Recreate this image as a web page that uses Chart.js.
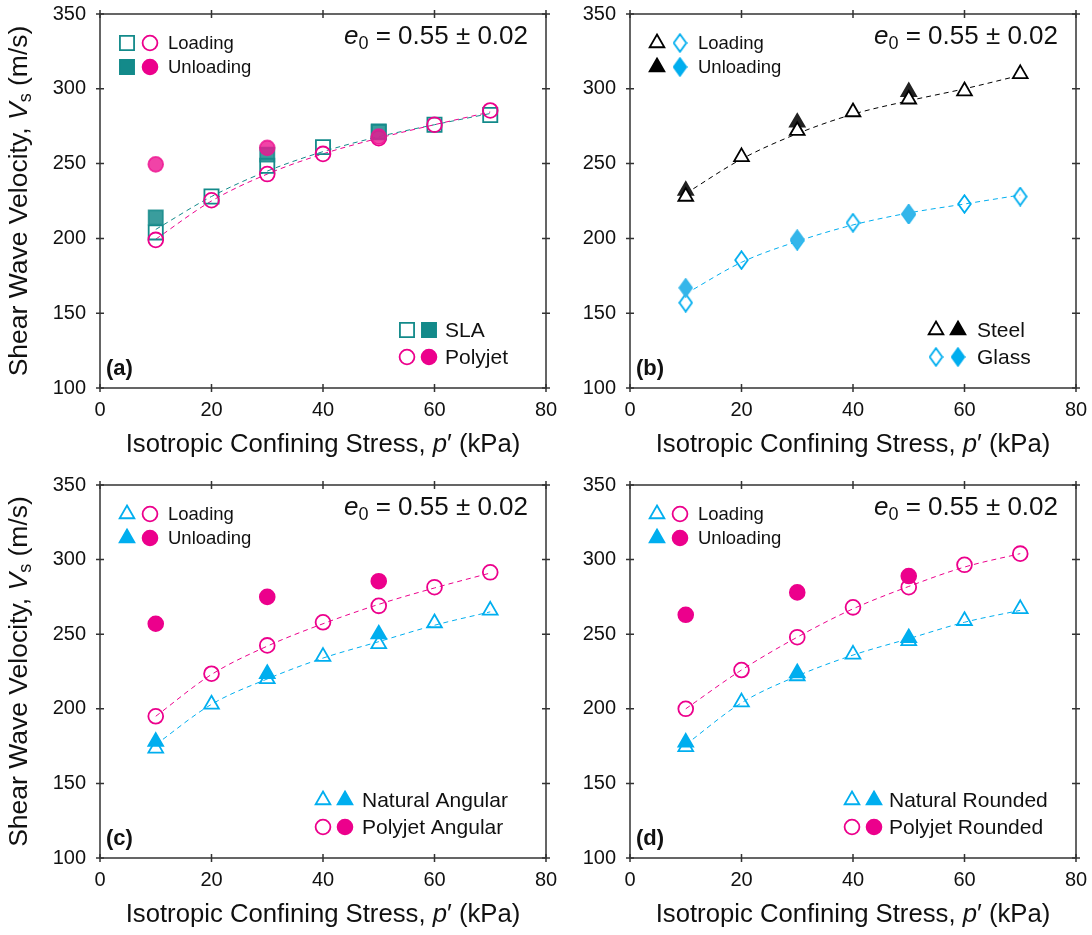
<!DOCTYPE html>
<html>
<head>
<meta charset="utf-8">
<script src="https://cdn.jsdelivr.net/npm/chart.js@4.4.1/dist/chart.umd.min.js"></script>
<style>
  body { margin: 0; background: #fff; }
  #wrap { position: relative; width: 1092px; height: 935px; overflow: hidden; }
  .panel { position: absolute; }
</style>
</head>
<body>
<div id="wrap">
  <div class="panel" style="left:0;top:0;width:560px;height:470px"><canvas id="pa"></canvas></div>
  <div class="panel" style="left:560px;top:0;width:532px;height:470px"><canvas id="pb"></canvas></div>
  <div class="panel" style="left:0;top:470px;width:560px;height:465px"><canvas id="pc"></canvas></div>
  <div class="panel" style="left:560px;top:470px;width:532px;height:465px"><canvas id="pd"></canvas></div>
</div>
<script>
// confining stress steps (kPa)
var pressure = [10, 20, 30, 40, 50, 60, 70];
var unloadPressure = [10, 30, 50];
var xTicks = [0, 20, 40, 60, 80];
var yTicks = [100, 150, 200, 250, 300, 350];

// (a) SLA vs Polyjet
var slaLoading = [204, 228, 248.5, 261, 271.5, 276, 282.5];
var slaUnloading = [214, 256, 271];
var slaFit = [206, 228, 245, 258, 268, 276, 283.5];
var polyjetLoading = [199, 225.5, 243, 256.5, 267, 276, 285.5];
var polyjetUnloading = [249.5, 260.5, 268];
var polyjetFit = [199.5, 225, 243, 256.5, 267, 276, 284.5];

// (b) Steel vs Glass
var steelLoading = [228, 254.5, 272, 284.5, 293, 298.5, 310];
var steelUnloading = [232, 277.5, 298];
var steelFit = [230, 253, 270, 283, 292, 300, 309];
var glassLoading = [157, 185.5, 198.5, 210.5, 216, 223, 228];
var glassUnloading = [167, 199.5, 216.5];
var glassFit = [163, 184, 198, 209, 217, 223, 229];

// (c) angular
var naturalAngularLoading = [173.5, 203, 220, 235, 243.5, 257.5, 266];
var naturalAngularUnloading = [178, 223.5, 250];
var naturalAngularFit = [176, 203, 220, 234, 245, 256, 265];
var polyjetAngularLoading = [195, 223.5, 242.5, 258, 269, 281.5, 291.5];
var polyjetAngularUnloading = [257, 275, 285.5];
var polyjetAngularFit = [195, 223, 242, 257, 270, 281, 291];

// (d) rounded
var naturalRoundedLoading = [174.5, 204.5, 222, 236.5, 245.5, 259, 267];
var naturalRoundedUnloading = [177.5, 224, 247.5];
var naturalRoundedFit = [176, 204, 222, 236, 247, 258, 266];
var polyjetRoundedLoading = [200, 226, 248, 268, 281.5, 296.5, 304];
var polyjetRoundedUnloading = [263, 278, 289];
var polyjetRoundedFit = [200, 226, 248, 267, 282, 295, 304];

var FONT = '"Liberation Sans", Arial, sans-serif';
var TEAL = '#138a8a', PINK = '#ec008c', BLUE = '#00aeef', BLACK = '#000000';

Chart.defaults.font.family = FONT;
Chart.defaults.color = '#111';

function pts(xs, ys) {
  return xs.map(function(x, i) { return { x: x, y: ys[i] }; });
}

function diamond(fill, stroke) {
  var c = document.createElement('canvas');
  c.width = 15; c.height = 20;
  var g = c.getContext('2d');
  g.beginPath();
  g.moveTo(7.5, 1.2); g.lineTo(13.8, 10); g.lineTo(7.5, 18.8); g.lineTo(1.2, 10);
  g.closePath();
  if (fill) { g.fillStyle = fill; g.fill(); }
  g.lineWidth = 1.8; g.strokeStyle = stroke; g.stroke();
  return c;
}

function drawMarker(ctx, s, filled, x, y) {
  ctx.save();
  ctx.lineWidth = 1.8;
  ctx.strokeStyle = s.color;
  ctx.fillStyle = s.color;
  var r = s.radius;
  ctx.beginPath();
  if (s.shape === 'diamond') {
    var img = filled ? s.filledImg : s.openImg;
    ctx.drawImage(img, x - img.width / 2, y - img.height / 2);
    ctx.restore();
    return;
  } else if (s.shape === 'rect') {
    var h = r * Math.SQRT1_2;
    ctx.rect(x - h, y - h, 2 * h, 2 * h);
  } else if (s.shape === 'triangle') {
    ctx.moveTo(x, y - r);
    ctx.lineTo(x + r * Math.sin(2 * Math.PI / 3), y - r * Math.cos(2 * Math.PI / 3));
    ctx.lineTo(x + r * Math.sin(4 * Math.PI / 3), y - r * Math.cos(4 * Math.PI / 3));
    ctx.closePath();
  } else {
    ctx.arc(x, y, r, 0, Math.PI * 2);
  }
  if (filled) ctx.fill();
  ctx.stroke();
  ctx.restore();
}

function richWidth(ctx, parts) {
  var w = 0;
  parts.forEach(function(p) { ctx.font = p.font; w += ctx.measureText(p.t).width; });
  return w;
}

function drawRich(ctx, parts, x, y, align) {
  var w = richWidth(ctx, parts);
  var cx = align === 'right' ? x - w : (align === 'center' ? x - w / 2 : x);
  parts.forEach(function(p) {
    ctx.font = p.font;
    ctx.fillText(p.t, cx, y + (p.dy || 0));
    cx += ctx.measureText(p.t).width;
  });
}

function makeDecor(spec) {
  return {
    id: 'decor',
    afterDraw: function(chart) {
      var ctx = chart.ctx, a = chart.chartArea;
      var sx = chart.scales.x, sy = chart.scales.y;
      ctx.save();
      // frame + ticks on all four sides
      ctx.strokeStyle = '#333';
      ctx.lineWidth = 1.5;
      ctx.strokeRect(a.left, a.top, a.right - a.left, a.bottom - a.top);
      ctx.beginPath();
      xTicks.forEach(function(v) {
        var px = sx.getPixelForValue(v);
        ctx.moveTo(px, a.bottom - 4); ctx.lineTo(px, a.bottom + 4);
        ctx.moveTo(px, a.top - 4); ctx.lineTo(px, a.top + 4);
      });
      yTicks.forEach(function(v) {
        var py = sy.getPixelForValue(v);
        ctx.moveTo(a.left - 4, py); ctx.lineTo(a.left + 4, py);
        ctx.moveTo(a.right - 4, py); ctx.lineTo(a.right + 4, py);
      });
      ctx.stroke();

      ctx.fillStyle = '#111';
      ctx.textBaseline = 'alphabetic';
      // e0 annotation
      drawRich(ctx, [
        { t: 'e', font: 'italic 26px ' + FONT },
        { t: '0', font: '18px ' + FONT, dy: 5 },
        { t: ' = 0.55 \u00b1 0.02', font: '26px ' + FONT }
      ], a.right - 18, a.top + 30, 'right');

      // top-left legend: loading / unloading
      ctx.textBaseline = 'middle';
      var r1 = a.top + 29, r2 = a.top + 53;
      drawMarker(ctx, spec.s1, false, a.left + 27, r1);
      drawMarker(ctx, spec.s2, false, a.left + 50, r1);
      drawMarker(ctx, spec.s1, true, a.left + 27, r2);
      drawMarker(ctx, spec.s2, true, a.left + 50, r2);
      ctx.fillStyle = '#111';
      ctx.font = '18.5px ' + FONT;
      ctx.fillText('Loading', a.left + 68, r1 + 1);
      ctx.fillText('Unloading', a.left + 68, r2 + 1);

      // bottom-right legend: materials
      var b1 = a.bottom - 58, b2 = a.bottom - 31, lx = a.left + spec.legendX;
      drawMarker(ctx, spec.s1, false, lx, b1);
      drawMarker(ctx, spec.s1, true, lx + 22, b1);
      drawMarker(ctx, spec.s2, false, lx, b2);
      drawMarker(ctx, spec.s2, true, lx + 22, b2);
      ctx.fillStyle = '#111';
      ctx.font = '21px ' + FONT;
      ctx.fillText(spec.s1.name, lx + spec.textGap, b1 + 1);
      ctx.fillText(spec.s2.name, lx + spec.textGap, b2 + 1);

      // panel letter
      ctx.font = 'bold 22px ' + FONT;
      ctx.fillText(spec.label, a.left + 6, a.bottom - 19);

      // x title
      drawRich(ctx, [
        { t: 'Isotropic Confining Stress, ', font: '25.7px ' + FONT },
        { t: 'p', font: 'italic 25.7px ' + FONT },
        { t: '\u2032 (kPa)', font: '25.7px ' + FONT }
      ], (a.left + a.right) / 2, a.bottom + 57, 'center');

      // y title (left column only)
      if (spec.yTitle) {
        ctx.translate(20, (a.top + a.bottom) / 2);
        ctx.rotate(-Math.PI / 2);
        drawRich(ctx, [
          { t: 'Shear Wave Velocity, ', font: '26.5px ' + FONT },
          { t: 'V', font: 'italic 26.5px ' + FONT },
          { t: 's', font: '18px ' + FONT, dy: 6 },
          { t: ' (m/s)', font: '26.5px ' + FONT }
        ], 0, 0, 'center');
      }
      ctx.restore();
    }
  };
}

function seriesSets(s, order) {
  var openFill = s.openFill || 'rgba(0,0,0,0)';
  var common = {
    pointStyle: s.shape === 'diamond' ? s.openImg : s.shape,
    pointRadius: s.radius,
    pointBorderColor: s.color,
    pointBorderWidth: 1.8,
    showLine: false
  };
  return [
    {
      data: pts(pressure, s.fit), showLine: true, borderColor: s.color, borderWidth: 1,
      borderDash: [5, 4], pointRadius: 0, cubicInterpolationMode: 'monotone', order: order + 4
    },
    Object.assign({}, common, {
      data: pts(pressure, s.loading), pointBackgroundColor: openFill,
      order: s.openOnTop ? -1 : order + 2
    }),
    Object.assign({}, common, {
      data: pts(unloadPressure, s.unloading),
      pointStyle: s.shape === 'diamond' ? s.plotFilledImg : s.shape,
      pointBackgroundColor: s.plotFill, pointBorderColor: s.plotFill, order: order
    })
  ];
}

function makePanel(spec) {
  var datasets = seriesSets(spec.s1, 1).concat(seriesSets(spec.s2, 0));
  new Chart(document.getElementById(spec.id), {
    type: 'scatter',
    data: { datasets: datasets },
    options: {
      responsive: true,
      maintainAspectRatio: false,
      animation: false,
      events: [],
      layout: { padding: { left: 0, top: spec.padTop, right: spec.padRight, bottom: 0 } },
      plugins: { legend: { display: false }, tooltip: { enabled: false } },
      scales: {
        x: {
          type: 'linear', min: 0, max: 80,
          afterBuildTicks: function(s) { s.ticks = xTicks.map(function(v) { return { value: v }; }); },
          afterFit: function(s) { s.height = spec.xH; s.paddingLeft = 0; s.paddingRight = 0; },
          ticks: { font: { size: 20 }, color: '#111', padding: 10, maxRotation: 0 },
          grid: { display: false, drawTicks: false }, border: { display: false }
        },
        y: {
          type: 'linear', min: 100, max: 350,
          afterBuildTicks: function(s) { s.ticks = yTicks.map(function(v) { return { value: v }; }); },
          afterFit: function(s) { s.width = spec.yW; s.paddingTop = 0; s.paddingBottom = 0; },
          ticks: { font: { size: 20 }, color: '#111', padding: 14 },
          grid: { display: false, drawTicks: false }, border: { display: false }
        }
      }
    },
    plugins: [makeDecor(spec)]
  });
}

var glassOpen = diamond(null, BLUE);
var glassFilled = diamond(BLUE, BLUE);
var glassPlotFilled = diamond('#35b6ea', '#35b6ea');

makePanel({
  id: 'pa', label: '(a)', yTitle: true, yW: 100, xH: 82, padTop: 14, padRight: 14, legendX: 307, textGap: 38,
  s1: { name: 'SLA', shape: 'rect', radius: 10, color: TEAL, plotFill: 'rgba(24,140,140,0.85)',
        loading: slaLoading, unloading: slaUnloading, fit: slaFit },
  s2: { name: 'Polyjet', shape: 'circle', radius: 7.4, color: PINK, plotFill: 'rgba(238,20,145,0.8)',
        loading: polyjetLoading, unloading: polyjetUnloading, fit: polyjetFit }
});

makePanel({
  id: 'pb', label: '(b)', yTitle: false, yW: 70, xH: 82, padTop: 14, padRight: 16, legendX: 306, textGap: 41,
  s1: { name: 'Steel', shape: 'triangle', radius: 8.5, color: BLACK, plotFill: '#222', openFill: '#fff', openOnTop: true,
        loading: steelLoading, unloading: steelUnloading, fit: steelFit },
  s2: { name: 'Glass', shape: 'diamond', radius: 9, color: BLUE, plotFill: '#35b6ea',
        openImg: glassOpen, filledImg: glassFilled, plotFilledImg: glassPlotFilled,
        loading: glassLoading, unloading: glassUnloading, fit: glassFit }
});

makePanel({
  id: 'pc', label: '(c)', yTitle: true, yW: 100, xH: 77, padTop: 15, padRight: 14, legendX: 223, textGap: 39,
  s1: { name: 'Natural Angular', shape: 'triangle', radius: 8.5, color: BLUE, plotFill: BLUE,
        loading: naturalAngularLoading, unloading: naturalAngularUnloading, fit: naturalAngularFit },
  s2: { name: 'Polyjet Angular', shape: 'circle', radius: 7.4, color: PINK, plotFill: PINK,
        loading: polyjetAngularLoading, unloading: polyjetAngularUnloading, fit: polyjetAngularFit }
});

makePanel({
  id: 'pd', label: '(d)', yTitle: false, yW: 70, xH: 77, padTop: 15, padRight: 16, legendX: 222, textGap: 37,
  s1: { name: 'Natural Rounded', shape: 'triangle', radius: 8.5, color: BLUE, plotFill: BLUE,
        loading: naturalRoundedLoading, unloading: naturalRoundedUnloading, fit: naturalRoundedFit },
  s2: { name: 'Polyjet Rounded', shape: 'circle', radius: 7.4, color: PINK, plotFill: PINK,
        loading: polyjetRoundedLoading, unloading: polyjetRoundedUnloading, fit: polyjetRoundedFit }
});
</script>
</body>
</html>
